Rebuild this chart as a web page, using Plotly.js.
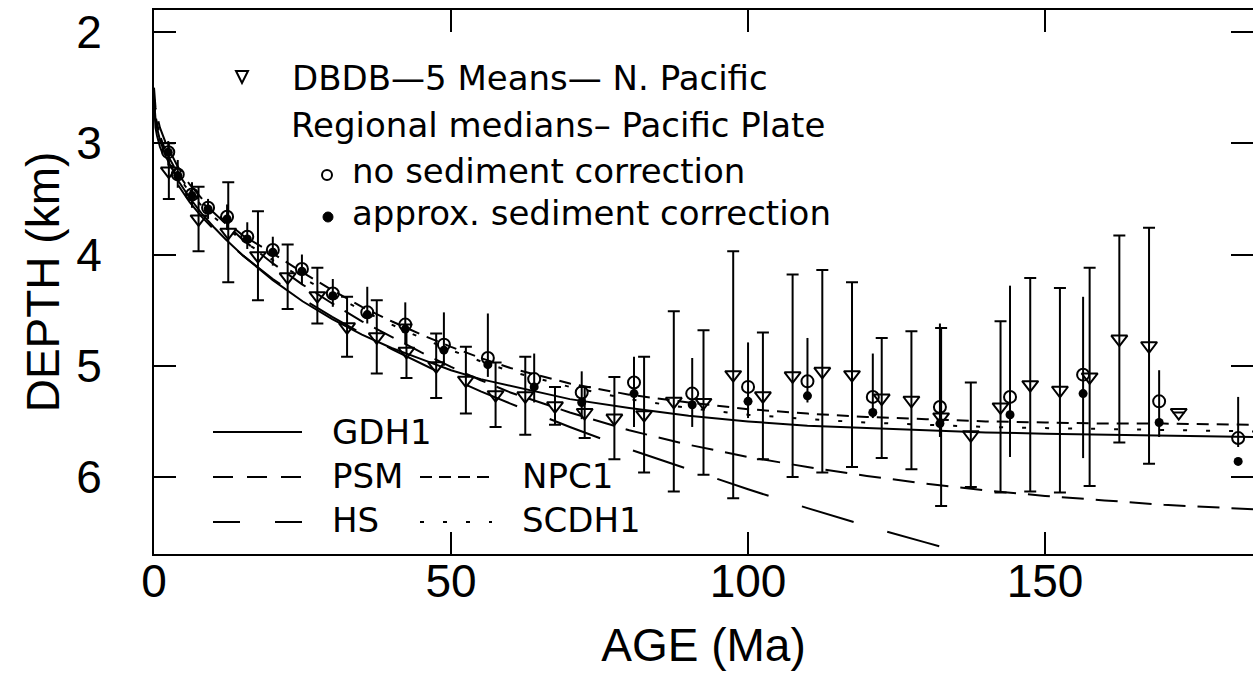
<!DOCTYPE html>
<html>
<head>
<meta charset="utf-8">
<script src="https://cdn.plot.ly/plotly-3.0.1.min.js"></script>
<style>html,body{margin:0;padding:0;background:#fff;}#chart{width:1253px;height:676px;}</style>
</head>
<body>
<div id="chart"></div>
<script>
// ---- model curves (age in Ma, depth in km) ----
const curveAge = [0, 0.25, 0.5, 1, 2, 3, 4, 6, 8, 10, 12, 15, 20, 25, 30, 35, 40, 45, 50, 55, 60, 70, 80, 90, 100, 110, 120, 130, 140, 150, 160, 170, 185];
const gdh1  = [2.60, 2.78, 2.86, 2.97, 3.12, 3.23, 3.33, 3.49, 3.63, 3.75, 3.86, 4.01, 4.23, 4.42, 4.58, 4.72, 4.84, 4.94, 5.04, 5.12, 5.18, 5.30, 5.38, 5.45, 5.50, 5.54, 5.56, 5.58, 5.60, 5.61, 5.62, 5.63, 5.64];
const psm   = [2.50, 2.68, 2.75, 2.86, 3.00, 3.11, 3.21, 3.37, 3.50, 3.62, 3.72, 3.87, 4.08, 4.27, 4.44, 4.60, 4.74, 4.88, 5.01, 5.13, 5.24, 5.42, 5.58, 5.71, 5.82, 5.91, 5.99, 6.06, 6.12, 6.17, 6.21, 6.25, 6.29];
const npc1  = [2.60, 2.75, 2.82, 2.93, 3.08, 3.18, 3.27, 3.42, 3.53, 3.62, 3.70, 3.83, 3.99, 4.16, 4.32, 4.47, 4.60, 4.72, 4.83, 4.93, 5.02, 5.16, 5.26, 5.33, 5.39, 5.43, 5.46, 5.48, 5.50, 5.51, 5.52, 5.52, 5.53];
const scdh1 = [2.60, 2.76, 2.83, 2.94, 3.09, 3.20, 3.29, 3.44, 3.56, 3.66, 3.75, 3.88, 4.05, 4.21, 4.36, 4.50, 4.63, 4.75, 4.86, 4.96, 5.05, 5.19, 5.30, 5.38, 5.44, 5.48, 5.51, 5.53, 5.55, 5.56, 5.57, 5.58, 5.59];
const hsAge = [0, 0.25, 0.5, 1, 2, 3, 4, 6, 8, 10, 12, 15, 20, 25, 30, 35, 40, 45, 50, 55, 60, 70, 80, 90, 100, 110, 120, 130, 140];
const hs    = [2.62, 2.86, 2.93, 3.03, 3.17, 3.28, 3.37, 3.53, 3.66, 3.77, 3.87, 4.01, 4.22, 4.40, 4.56, 4.71, 4.85, 4.98, 5.11, 5.23, 5.34, 5.55, 5.75, 5.93, 6.11, 6.28, 6.44, 6.59, 6.74];

// ---- DBDB-5 means, N. Pacific (triangles, +/- 1 sd) ----
const dbAge = [2.5, 7.5, 12.5, 17.5, 22.5, 27.5, 32.5, 37.5, 42.5, 47.5, 52.5, 57.5, 62.5, 67.5, 72.5, 77.5, 82.5, 87.5, 92.5, 97.5, 102.5, 107.5, 112.5, 117.5, 122.5, 127.5, 132.5, 137.5, 142.5, 147.5, 152.5, 157.5, 162.5, 167.5, 172.5];
const dbDepth = [3.25, 3.68, 3.80, 4.01, 4.20, 4.37, 4.65, 4.74, 4.87, 5.00, 5.13, 5.26, 5.27, 5.36, 5.42, 5.47, 5.44, 5.32, 5.33, 5.08, 5.27, 5.09, 5.05, 5.08, 5.29, 5.31, 5.46, 5.62, 5.37, 5.17, 5.22, 5.10, 4.76, 4.82, 5.42];
const dbSd = [0.25, 0.29, 0.45, 0.40, 0.29, 0.25, 0.27, 0.33, 0.24, 0.29, 0.30, 0.29, 0.35, 0.17, 0.23, 0.37, 0.52, 0.81, 0.65, 1.11, 0.57, 0.91, 0.91, 0.83, 0.54, 0.62, 0.80, 0.47, 0.77, 0.96, 0.92, 0.98, 0.93, 1.06, 0];

// ---- Regional medians, Pacific Plate ----
const medAge = [2.4, 4.0, 6.4, 9.1, 12.3, 15.7, 20.0, 24.9, 30.1, 35.9, 42.3, 48.8, 56.2, 64.0, 72.0, 80.8, 90.6, 100.0, 110.0, 121.0, 132.3, 144.1, 156.4, 169.2, 182.5];
const medRaw = [3.08, 3.28, 3.46, 3.58, 3.66, 3.84, 3.96, 4.13, 4.35, 4.52, 4.63, 4.81, 4.93, 5.12, 5.24, 5.15, 5.25, 5.19, 5.14, 5.28, 5.37, 5.28, 5.08, 5.32, 5.65];
const medCorr = [3.08, 3.29, 3.47, 3.59, 3.68, 3.86, 3.98, 4.15, 4.37, 4.54, 4.67, 4.86, 4.99, 5.19, 5.33, 5.25, 5.35, 5.32, 5.27, 5.42, 5.52, 5.44, 5.25, 5.51, 5.86];
const medTop = [2.98, 3.15, 3.35, 3.50, 3.55, 3.71, 3.84, 4.00, 4.22, 4.29, 4.43, 4.52, 4.53, 4.89, 5.05, 4.92, 4.93, 4.79, 4.75, 4.89, 4.62, 4.28, 4.38, 5.04, 5.28];
const medBot = [3.20, 3.40, 3.58, 3.68, 3.78, 3.95, 4.10, 4.27, 4.47, 4.62, 4.80, 5.00, 5.10, 5.33, 5.48, 5.55, 5.55, 5.47, 5.33, 5.47, 5.64, 5.82, 5.83, 5.64, 5.73];

// ---- text ----
const xTickVals = [0, 50, 100, 150];
const yTickVals = [2, 3, 4, 5, 6];
const xTitle = 'AGE (Ma)';
const yTitle = 'DEPTH (km)';
const legendTop = ['DBDB—5 Means— N. Pacific', 'Regional medians– Pacific Plate', 'no sediment correction', 'approx. sediment correction'];
const legendLines = ['GDH1', 'PSM', 'NPC1', 'HS', 'SCDH1'];

const K = '#000';
const lineTrace = (x, y, dash) => ({x, y, type: 'scatter', mode: 'lines', line: {color: K, width: 2, dash}, hoverinfo: 'skip'});

const traces = [
  lineTrace(curveAge, gdh1, 'solid'),
  lineTrace(curveAge, psm, '22px,12px'),
  lineTrace(curveAge, npc1, '12px,8px'),
  lineTrace(hsAge, hs, '54px,35px'),
  lineTrace(curveAge, scdh1, '4px,19px'),
  {x: dbAge, y: dbDepth, type: 'scatter', mode: 'markers',
   error_y: {type: 'data', array: dbSd, visible: true, color: K, thickness: 2, width: 6},
   marker: {symbol: 'triangle-down-open', size: 14, color: K, line: {width: 2, color: K}}},
  {x: medAge, y: medRaw, type: 'scatter', mode: 'markers',
   error_y: {type: 'data', symmetric: false,
             array: medBot.map((b, i) => b - medRaw[i]),
             arrayminus: medRaw.map((v, i) => v - medTop[i]),
             visible: true, color: K, thickness: 2, width: 0},
   marker: {symbol: 'circle-open', size: 12, color: K, line: {width: 2, color: K}}},
  {x: medAge, y: medCorr, type: 'scatter', mode: 'markers',
   marker: {symbol: 'circle', size: 9, color: K}}
];

// pixel -> paper helpers for the hand-drawn key
const L = 154, T = 10, W = 1099, H = 544;
const px = x => (x - L) / W;
const py = y => (T + H - y) / H;
const hline = (x0, x1, y, dash) => ({type: 'line', xref: 'paper', yref: 'paper', x0: px(x0), x1: px(x1), y0: py(y), y1: py(y), line: {color: K, width: 2, dash}});

const shapes = [
  {type: 'path', xref: 'paper', yref: 'paper',
   path: `M ${px(236)} ${py(71)} L ${px(248)} ${py(71)} L ${px(242)} ${py(83)} Z`, line: {color: K, width: 2}},
  {type: 'circle', xref: 'paper', yref: 'paper', x0: px(322), x1: px(332), y0: py(170), y1: py(180), line: {color: K, width: 2}},
  {type: 'circle', xref: 'paper', yref: 'paper', x0: px(323), x1: px(333), y0: py(212), y1: py(222), fillcolor: K, line: {color: K, width: 1}},
  hline(213, 302, 432, 'solid'),
  hline(213, 302, 477, '20px,14px'),
  hline(420, 492, 477, '12px,7px'),
  hline(213, 302, 522, '27px,35px'),
  hline(420, 492, 522, '4px,19px')
];

const legFont = {family: 'DejaVu Sans', size: 34, color: K};
const ann = (text, x, y) => ({text, xref: 'paper', yref: 'paper', x: px(x), y: py(y), xanchor: 'left', yanchor: 'middle', showarrow: false, font: legFont});
const annotations = [
  ann(legendTop[0], 290, 78),
  ann(legendTop[1], 289, 125),
  ann(legendTop[2], 350, 171),
  ann(legendTop[3], 350, 213),
  ann(legendLines[0], 330, 432),
  ann(legendLines[1], 330, 476),
  ann(legendLines[2], 520, 476),
  ann(legendLines[3], 330, 520),
  ann(legendLines[4], 520, 520)
];

const tickFont = {family: 'Liberation Sans', size: 46, color: K};
const axisCommon = {ticks: 'inside', ticklen: 22, tickwidth: 2, tickcolor: K, showline: true, linewidth: 2, linecolor: K,
  mirror: 'ticks', showgrid: false, zeroline: false, tickfont: tickFont, automargin: false};

const layout = {
  width: 1253, height: 676,
  margin: {l: L, r: 0, t: T, b: 676 - T - H},
  paper_bgcolor: '#fff', plot_bgcolor: '#fff',
  showlegend: false,
  xaxis: Object.assign({}, axisCommon, {range: [0, 185], tickvals: xTickVals, ticklabelstandoff: -14,
    title: {text: xTitle, font: tickFont, standoff: 23}}),
  yaxis: Object.assign({}, axisCommon, {range: [6.692, 1.802], tickvals: yTickVals, ticklabelstandoff: 41,
    title: {text: yTitle, font: tickFont, standoff: 2}}),
  shapes, annotations
};

Plotly.newPlot('chart', traces, layout, {staticPlot: true, displayModeBar: false});
</script>
</body>
</html>
